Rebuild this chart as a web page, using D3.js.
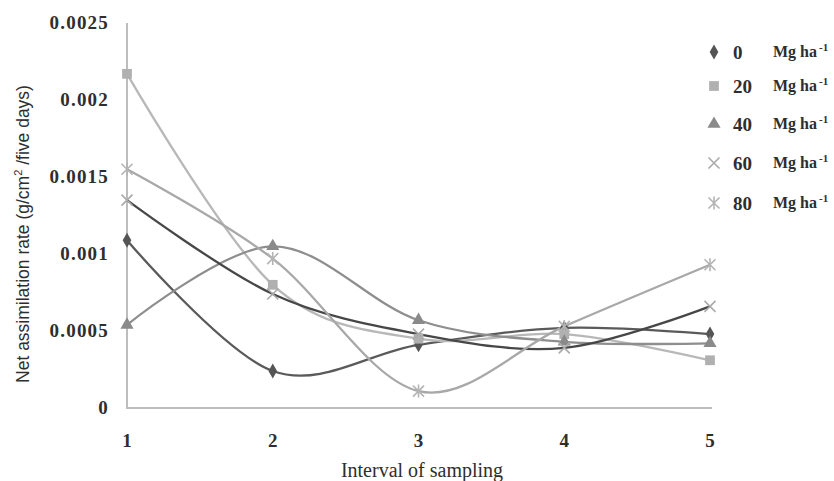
<!DOCTYPE html>
<html>
<head>
<meta charset="utf-8">
<script src="https://cdn.jsdelivr.net/npm/d3@7"></script>
<style>
  body { margin: 0; background: #fff; }
  svg { display: block; }
</style>
</head>
<body>
<svg id="chart" width="834" height="481"></svg>
<script>
// values
const intervals = [1, 2, 3, 4, 5];
const rates = ["0", "20", "40", "60", "80"];
const nar0  = [0.00109, 0.00024, 0.00041, 0.00052, 0.00048];
const nar20 = [0.00217, 0.00080, 0.00045, 0.00048, 0.00031];
const nar40 = [0.00054, 0.00105, 0.00057, 0.00043, 0.00042];
const nar60 = [0.00135, 0.00074, 0.00048, 0.00039, 0.00066];
const nar80 = [0.00155, 0.00097, 0.00011, 0.00053, 0.00093];
const yTicks = [0, 0.0005, 0.001, 0.0015, 0.002, 0.0025];
const yTickLabels = ["0", "0.0005", "0.001", "0.0015", "0.002", "0.0025"];

const series = [nar0, nar20, nar40, nar60, nar80];

// look of each series: line colour, marker colour, marker kind
const lineColor   = ["#5a5a5a", "#b8b8b8", "#8e8e8e", "#474747", "#a8a8a8"];
const markerColor = ["#555555", "#b0b0b0", "#8a8a8a", "#aaaaaa", "#b4b4b4"];
const markerKind  = ["diamond", "square", "triangle", "times", "star"];

const svg = d3.select("#chart");
const serif = "'Liberation Serif', 'DejaVu Serif', serif";

const x = d3.scaleLinear().domain([1, 5]).range([127, 710]);
const y = d3.scaleLinear().domain([0, 0.0025]).range([408, 23]);

// marker paths
function markerPath(kind) {
  if (kind === "diamond") return d3.symbol().type(d3.symbolDiamond).size(65)();
  if (kind === "square") return d3.symbol().type(d3.symbolSquare).size(95)();
  if (kind === "triangle") return d3.symbol().type(d3.symbolTriangle).size(75)();
  var r = 5.5;
  var p = "M" + (-r) + "," + (-r) + "L" + r + "," + r + "M" + (-r) + "," + r + "L" + r + "," + (-r);
  if (kind === "star") p += "M0," + (-r - 1) + "L0," + (r + 1);
  return p;
}
function isStroke(kind) { return kind === "times" || kind === "star"; }

// axes lines
const axisG = svg.append("g");
axisG.append("line")
  .attr("x1", x(1)).attr("x2", x(1))
  .attr("y1", y(0.0025)).attr("y2", y(0) + 1)
  .attr("stroke", "#bdbdbd").attr("stroke-width", 2);
axisG.append("line")
  .attr("x1", x(1)).attr("x2", x(5) + 2)
  .attr("y1", y(0)).attr("y2", y(0))
  .attr("stroke", "#bdbdbd").attr("stroke-width", 2);

// y tick labels
svg.append("g").selectAll("text")
  .data(yTicks)
  .join("text")
  .attr("x", 109)
  .attr("y", d => y(d) + 6)
  .attr("text-anchor", "end")
  .attr("font-family", serif)
  .attr("font-weight", "bold")
  .attr("font-size", 19)
  .attr("letter-spacing", 1.2)
  .attr("fill", "#2e2e2e")
  .text((d, i) => yTickLabels[i]);

// x tick labels
svg.append("g").selectAll("text")
  .data(intervals)
  .join("text")
  .attr("x", d => x(d))
  .attr("y", 447)
  .attr("text-anchor", "middle")
  .attr("font-family", serif)
  .attr("font-weight", "bold")
  .attr("font-size", 19)
  .attr("fill", "#2e2e2e")
  .text(d => d);

// axis titles
svg.append("text")
  .attr("x", 422).attr("y", 477)
  .attr("text-anchor", "middle")
  .attr("font-family", serif)
  .attr("font-size", 20)
  .attr("fill", "#2e2e2e")
  .text("Interval of sampling");

const yt = svg.append("text")
  .attr("transform", "translate(29,234) rotate(-90)")
  .attr("text-anchor", "middle")
  .attr("font-family", "'Liberation Sans', Arial, sans-serif")
  .attr("font-size", 17.5)
  .attr("fill", "#2e2e2e");
yt.append("tspan").text("Net assimilation rate (g/cm");
yt.append("tspan").attr("dy", -7).attr("font-size", 11).text("2");
yt.append("tspan").attr("dy", 7).text(" /five days)");

// lines
const line = d3.line()
  .x((d, i) => x(intervals[i]))
  .y(d => y(d))
  .curve(d3.curveCatmullRom.alpha(0));

svg.append("g").selectAll("path")
  .data(series)
  .join("path")
  .attr("d", d => line(d))
  .attr("fill", "none")
  .attr("stroke", (d, i) => lineColor[i])
  .attr("stroke-width", 2.3);

// markers
series.forEach((vals, s) => {
  svg.append("g").selectAll("path")
    .data(vals)
    .join("path")
    .attr("transform", (d, i) => "translate(" + x(intervals[i]) + "," + y(d) + ")")
    .attr("d", markerPath(markerKind[s]))
    .attr("fill", isStroke(markerKind[s]) ? "none" : markerColor[s])
    .attr("stroke", isStroke(markerKind[s]) ? markerColor[s] : "none")
    .attr("stroke-width", 1.6);
});

// legend
const legendY = [52, 86, 124, 163, 203];
const legend = svg.append("g").selectAll("g")
  .data(rates)
  .join("g")
  .attr("transform", (d, i) => "translate(0," + legendY[i] + ")");

legend.append("path")
  .attr("transform", "translate(714,0)")
  .attr("d", (d, i) => markerPath(markerKind[i]))
  .attr("fill", (d, i) => isStroke(markerKind[i]) ? "none" : markerColor[i])
  .attr("stroke", (d, i) => isStroke(markerKind[i]) ? markerColor[i] : "none")
  .attr("stroke-width", 1.6);

legend.append("text")
  .attr("x", 733).attr("y", 7)
  .attr("font-family", serif)
  .attr("font-weight", "bold")
  .attr("font-size", 19)
  .attr("fill", "#2e2e2e")
  .text(d => d);

const unit = legend.append("text")
  .attr("x", 773).attr("y", 5)
  .attr("font-family", serif)
  .attr("font-weight", "bold")
  .attr("font-size", 16)
  .attr("fill", "#2e2e2e");
unit.append("tspan").text("Mg ha");
unit.append("tspan").attr("dx", 2).attr("dy", -6).attr("font-size", 11).text("-1");
</script>
</body>
</html>
